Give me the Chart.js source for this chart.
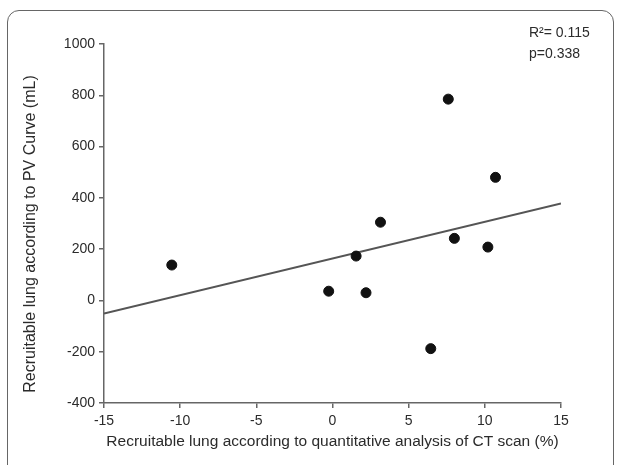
<!DOCTYPE html>
<html>
<head>
<meta charset="utf-8">
<script src="https://cdn.jsdelivr.net/npm/chart.js@4"></script>
<style>
    html, body { margin: 0; padding: 0; background: #fff; overflow: hidden; }
    #wrap { position: relative; width: 626px; height: 465px; }
    #frame { position: absolute; left: 7px; top: 10px; width: 607px; height: 480px;
             border: 1.5px solid #666; border-radius: 12px; box-sizing: border-box; }
    canvas { position: absolute; left: 0; top: 0; }
</style>
</head>
<body>
<div id="wrap">
    <div id="frame"></div>
    <canvas id="chart" width="626" height="465"></canvas>
</div>
<script>
// data
const ctX = [-10.55, -0.25, 1.55, 2.2, 3.15, 6.45, 7.6, 8.0, 10.2, 10.7];
const pvY = [138, 36, 173, 30, 305, -188, 785, 242, 208, 480];
const fitX = [-15, 15];
const fitY = [-51, 378];
const xTicks = [-15, -10, -5, 0, 5, 10, 15];
const yTicks = [-400, -200, 0, 200, 400, 600, 800, 1000];
const statLines = ['R\u00B2= 0.115', 'p=0.338'];
const yTitle = 'Recruitable lung according to PV Curve (mL)';

const axisColor = '#666';
const textColor = '#2b2b2b';
const fontFamily = 'Arial, "Liberation Sans", sans-serif';

// R2 / p text top right, plus the y title (sits a bit below the axis middle)
const extraText = {
    id: 'extraText',
    afterDraw(chart) {
        const c = chart.ctx;
        c.save();
        c.fillStyle = textColor;
        c.font = '14px ' + fontFamily;
        c.textAlign = 'left';
        c.textBaseline = 'middle';
        statLines.forEach((t, i) => c.fillText(t, 529, 33 + i * 21));

        c.translate(31, 234);
        c.rotate(-Math.PI / 2);
        c.font = '16px ' + fontFamily;
        c.textAlign = 'center';
        c.fillText(yTitle, 0, 0);
        c.restore();
    }
};

new Chart(document.getElementById('chart'), {
    type: 'scatter',
    data: {
        datasets: [
            {
                label: 'patients',
                data: ctX.map((x, i) => ({ x: x, y: pvY[i] })),
                backgroundColor: '#111',
                borderColor: '#111',
                pointRadius: 5,
                pointHoverRadius: 5
            },
            {
                type: 'line',
                label: 'fit',
                data: fitX.map((x, i) => ({ x: x, y: fitY[i] })),
                borderColor: '#555',
                borderWidth: 2,
                pointRadius: 0,
                fill: false
            }
        ]
    },
    options: {
        responsive: false,
        animation: false,
        layout: { padding: { left: 22, top: 44, right: 65, bottom: 14 } },
        plugins: { legend: { display: false }, tooltip: { enabled: false } },
        scales: {
            x: {
                type: 'linear',
                min: -15, max: 15,
                afterBuildTicks: s => { s.ticks = xTicks.map(v => ({ value: v })); },
                afterFit: s => { s.height = 48; },
                grid: { drawOnChartArea: false, drawTicks: true, tickLength: 5, color: axisColor, lineWidth: 1.5 },
                border: { color: axisColor, width: 1.5 },
                ticks: { color: textColor, font: { family: fontFamily, size: 14 }, padding: 5, callback: v => String(v) },
                title: {
                    display: true,
                    text: 'Recruitable lung according to quantitative analysis of CT scan (%)',
                    color: textColor,
                    font: { family: fontFamily, size: 15.5 },
                    padding: 0
                }
            },
            y: {
                type: 'linear',
                min: -400, max: 1000,
                afterBuildTicks: s => { s.ticks = yTicks.map(v => ({ value: v })); },
                afterFit: s => { s.width = 82; },
                grid: { drawOnChartArea: false, drawTicks: true, tickLength: 5, color: axisColor, lineWidth: 1.5 },
                border: { color: axisColor, width: 1.5 },
                ticks: { color: textColor, font: { family: fontFamily, size: 14 }, padding: 4, callback: v => String(v) },
                title: { display: false }
            }
        }
    },
    plugins: [extraText]
});
</script>
</body>
</html>
